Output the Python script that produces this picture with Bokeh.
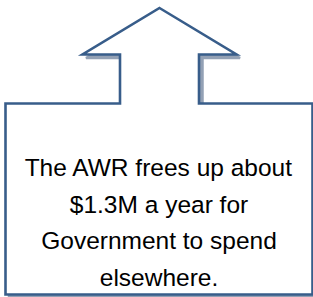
from bokeh.plotting import figure
from bokeh.models import Range1d
from bokeh.core.properties import value
from bokeh.embed import file_html
from bokeh.resources import INLINE

# Callout outline (up-arrow callout), in picture pixel coordinates
outline_x = [159, 236, 198.5, 198.5, 312, 312, 5, 5, 119.5, 119.5, 82]
outline_y = [7.5, 54, 54, 103, 103, 294, 294, 103, 103, 54, 54]

# Text of the callout
text_lines = ["The AWR frees up about", "$1.3M a year for", "Government to spend", "elsewhere."]

W, H = 313, 297
p = figure(width=W, height=H, output_backend="svg", toolbar_location=None,
           x_range=Range1d(0, W), y_range=Range1d(H, 0),
           min_border=0, margin=(0, 0, 0, 0))
p.axis.visible = False
p.grid.visible = False
p.outline_line_color = None
p.background_fill_color = "white"
p.border_fill_color = "white"

# shadow
dx, dy = 3.5, 3.5
p.patch([x + dx for x in outline_x], [y + dy for y in outline_y],
        fill_color="#93a1b5", line_color="#93a1b5", line_width=2.5)
# shape
p.patch(outline_x, outline_y, fill_color="white", line_color="#385D8A",
        line_width=2.6, line_join="miter")

cx = (outline_x[4] + outline_x[6]) / 2
base0, step = 167, 36.7
p.text(x=[cx] * len(text_lines), y=[base0 + i * step for i in range(len(text_lines))],
       text=text_lines, text_align="center", text_baseline="alphabetic",
       text_font=value("Liberation Sans"), text_font_size="24.5px",
       text_color="#000000")

open("out.html", "w").write(file_html(p, INLINE))
